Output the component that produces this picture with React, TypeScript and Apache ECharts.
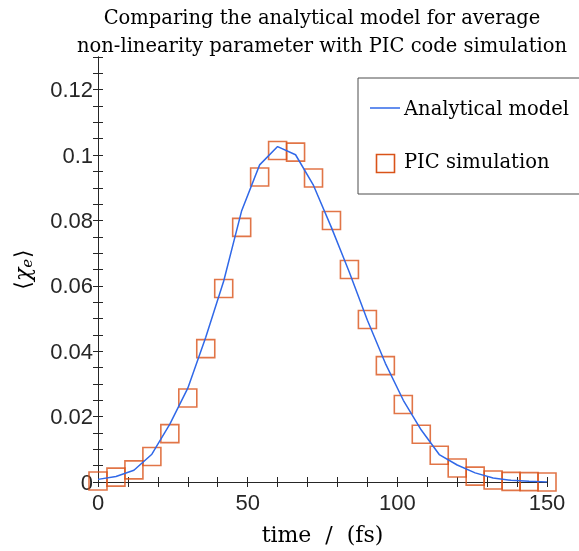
import React, { useEffect, useRef } from 'react';
import * as echarts from 'echarts';

const timeFs = [0, 6, 12, 18, 24, 30, 36, 42, 48, 54, 60, 66, 72, 78, 84, 90, 96, 102, 108, 114, 120, 126, 132, 138, 144, 150];
const modelChi = [0.0008, 0.0017, 0.0036, 0.0085, 0.0177, 0.0287, 0.0443, 0.0615, 0.083, 0.097, 0.1026, 0.1001, 0.0907, 0.0778, 0.0641, 0.0495, 0.0363, 0.025, 0.0159, 0.0084, 0.0052, 0.0028, 0.0012, 0.0005, 0.0002, 0.0];
const picChi = [0.0003, 0.0015, 0.0037, 0.0078, 0.0148, 0.0257, 0.0408, 0.0592, 0.0779, 0.0933, 0.1014, 0.1009, 0.093, 0.08, 0.065, 0.0497, 0.0356, 0.0237, 0.0146, 0.0082, 0.0043, 0.0018, 0.0006, 0.0002, 0.0001, 0.0];
const xTickLabels = [0, 50, 100, 150];
const yTickLabels = [0, 0.02, 0.04, 0.06, 0.08, 0.1, 0.12];
const titleLines = ['Comparing the analytical model for average', 'non-linearity parameter with PIC code simulation'];
const seriesNames = ['Analytical model', 'PIC simulation'];

const AXIS_COLOR = '#262626';
const LINE_COLOR = '#3068e8';
const SQUARE_COLOR = '#d95319';
const SERIF = '"DejaVu Serif", serif';
const SANS = '"Liberation Sans", Arial, sans-serif';

export default function App() {
  const ref = useRef<HTMLDivElement>(null);
  useEffect(() => {
    const chart = echarts.init(ref.current!, null, { renderer: 'svg' });
    const axisCommon = {
      axisLine: { show: true, lineStyle: { color: AXIS_COLOR, width: 1 } },
      axisTick: { show: true, inside: true, length: 5, lineStyle: { color: AXIS_COLOR, width: 1 } },
      splitLine: { show: false },
    };
    const fmtX = (v: number) => (xTickLabels.some((t) => Math.abs(t - v) < 1e-9) ? String(v) : '');
    const fmtY = (v: number) => {
      const t = yTickLabels.find((t) => Math.abs(t - v) < 1e-9);
      return t === undefined ? '' : String(t);
    };
    chart.setOption({
      animation: false,
      grid: { left: 98, right: 32, top: 57, bottom: 69, containLabel: false },
      xAxis: [
        {
          type: 'value', min: 0, max: 150, interval: 10, position: 'bottom',
          ...axisCommon,
          axisLabel: { formatter: fmtX, color: AXIS_COLOR, fontFamily: SANS, fontSize: 22, margin: 9 },
          name: 'time  /  (fs)', nameLocation: 'middle', nameGap: 41,
          nameTextStyle: { fontFamily: SERIF, fontSize: 22, color: '#000' },
        },
        {
          type: 'value', min: 0, max: 150, interval: 10, position: 'top',
          ...axisCommon,
          axisLabel: { show: false },
        },
      ],
      yAxis: [
        {
          type: 'value', min: 0, max: 0.13, interval: 0.005, position: 'left',
          ...axisCommon,
          axisLabel: { formatter: fmtY, color: AXIS_COLOR, fontFamily: SANS, fontSize: 22, margin: 5 },
          name: '{a|⟨}{b|χ}{c|e}{a|⟩}', nameLocation: 'middle', nameGap: 64, nameRotate: 90,
          nameTextStyle: {
            fontFamily: SERIF, fontSize: 22, color: '#000',
            rich: {
              a: { fontFamily: SERIF, fontSize: 22, color: '#000' },
              b: { fontFamily: SERIF, fontSize: 22, fontStyle: 'italic', color: '#000' },
              c: { fontFamily: SERIF, fontSize: 15, fontStyle: 'italic', color: '#000', padding: [8, 1, 0, 0] },
            },
          },
        },
        {
          type: 'value', min: 0, max: 0.13, interval: 0.005, position: 'right',
          ...axisCommon,
          axisLabel: { show: false },
        },
      ],
      graphic: [
        {
          type: 'rect', z: 5, shape: { x: 358, y: 78, width: 260, height: 116 },
          style: { fill: '#fff', stroke: '#4d4d4d', lineWidth: 1 },
        },
        {
          type: 'line', z: 6, shape: { x1: 370, y1: 108, x2: 400, y2: 108 },
          style: { stroke: LINE_COLOR, lineWidth: 1.5 },
        },
        {
          type: 'text', x: 404, y: 108, z: 6,
          style: { text: seriesNames[0], align: 'left', verticalAlign: 'middle', font: `19.5px ${SERIF}`, fill: '#000' },
        },
        {
          type: 'rect', z: 6, shape: { x: 376.5, y: 154.5, width: 18, height: 18 },
          style: { fill: 'none', stroke: SQUARE_COLOR, lineWidth: 1.6 },
        },
        {
          type: 'text', x: 404, y: 161, z: 6,
          style: { text: seriesNames[1], align: 'left', verticalAlign: 'middle', font: `19.5px ${SERIF}`, fill: '#000' },
        },
        {
          type: 'text', x: 322, y: 17, z: 5,
          style: { text: titleLines[0], align: 'center', verticalAlign: 'middle', font: `19.5px ${SERIF}`, fill: '#000' },
        },
        {
          type: 'text', x: 322, y: 45, z: 5,
          style: { text: titleLines[1], align: 'center', verticalAlign: 'middle', font: `19.5px ${SERIF}`, fill: '#000' },
        },
      ],
      series: [
        {
          type: 'scatter', name: seriesNames[1], z: 2,
          data: timeFs.map((t, i) => [t, picChi[i]]),
          symbol: 'rect', symbolSize: 18,
          itemStyle: { color: 'rgba(255,255,255,0)', borderColor: SQUARE_COLOR, borderWidth: 1.6 },
        },
        {
          type: 'line', name: seriesNames[0], z: 3,
          data: timeFs.map((t, i) => [t, modelChi[i]]),
          showSymbol: false, symbol: 'none',
          lineStyle: { color: LINE_COLOR, width: 1.5 },
          itemStyle: { color: LINE_COLOR },
        },
      ],
    });
    return () => chart.dispose();
  }, []);
  return <div ref={ref} style={{ position: 'fixed', left: 0, top: 0, width: 579, height: 551 }} />;
}
